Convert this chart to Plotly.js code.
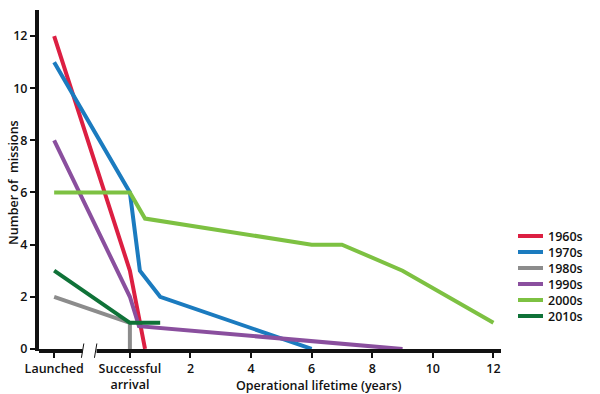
<!DOCTYPE html>
<html><head><meta charset="utf-8">
<script src="https://cdn.plot.ly/plotly-3.0.1.min.js"></script>
<style>body{margin:0;background:#fff}#c{width:600px;height:394px}</style>
</head><body><div id="c"></div>
<script>
// x positions: Launched = -2.5, Successful arrival = 0, then operational years
const seriesNames = ['1960s','1970s','1980s','1990s','2000s','2010s'];
const colors = ['#dc1f42','#1b7bbf','#8c8c8c','#8a4f9e','#7dc142','#0f7238'];
const x1960 = [-2.5, 0, 0.5];       const y1960 = [12, 3, 0];
const x1970 = [-2.5, 0, 0.33, 1, 6]; const y1970 = [11, 6, 3, 2, 0];
const x1980 = [-2.5, 0, 0];         const y1980 = [2, 1, 0];
const x1990 = [-2.5, 0, 0.3, 9];    const y1990 = [8, 2, 0.87, 0];
const x2000 = [-2.5, 0, 0.5, 6, 7, 9, 12]; const y2000 = [6, 6, 5, 4, 4, 3, 1];
const x2010 = [-2.5, 0, 1];         const y2010 = [3, 1, 1];
const tickVals = [-2.5, 0, 2, 4, 6, 8, 10, 12];
const tickText = ['Launched', 'Successful<br>arrival', '2', '4', '6', '8', '10', '12'];
const yTicks = [0, 2, 4, 6, 8, 10, 12];

const xs = [x1960, x1970, x1980, x1990, x2000, x2010];
const ys = [y1960, y1970, y1980, y1990, y2000, y2010];
const traces = seriesNames.map((n, i) => ({
  x: xs[i], y: ys[i], name: n, type: 'scatter', mode: 'lines',
  line: {color: colors[i], width: 4}
}));

const W = 600, H = 394, ML = 39, MR = 99, MT = 10, MB = 43;
const PW = W - ML - MR, PH = H - MT - MB;
const px = v => (v - ML) / PW;
const py = v => (H - MB - v) / PH;

const F = {family: 'Open Sans, sans-serif', size: 12.5, color: '#111', weight: 600};

const shapes = [
  {type: 'line', xref: 'x', yref: 'paper', x0: -3.05, x1: -1.56, y0: 0, y1: 0, line: {color: '#111', width: 4}, layer: 'above'},
  {type: 'line', xref: 'x', yref: 'paper', x0: -1.1, x1: 12.25, y0: 0, y1: 0, line: {color: '#111', width: 4}, layer: 'above'},
  {type: 'line', xref: 'x', yref: 'paper', x0: -1.6, x1: -1.52, y0: -0.02, y1: 0.022, line: {color: '#111', width: 1}, layer: 'above'},
  {type: 'line', xref: 'x', yref: 'paper', x0: -1.17, x1: -1.09, y0: -0.02, y1: 0.022, line: {color: '#111', width: 1}, layer: 'above'}
];
const annotations = [
  {text: 'Operational lifetime (years)', xref: 'paper', yref: 'paper',
    x: px(319), y: py(386), xanchor: 'center', yanchor: 'middle', showarrow: false, font: F},
  {text: 'Number of  missions', xref: 'paper', yref: 'paper', textangle: -90,
    x: px(13), y: py(183), xanchor: 'center', yanchor: 'middle', showarrow: false, font: F}
];
// legend (drawn manually to match tight item spacing)
seriesNames.forEach((n, i) => {
  const yy = py(236 + 16 * i);
  shapes.push({type: 'line', xref: 'paper', yref: 'paper', x0: px(518), x1: px(543), y0: yy, y1: yy,
    line: {color: colors[i], width: 4}});
  annotations.push({text: n, xref: 'paper', yref: 'paper', x: px(546), y: yy, xanchor: 'left', yanchor: 'middle',
    showarrow: false, font: F});
});

const layout = {
  width: W, height: H,
  margin: {l: ML, r: MR, t: MT, b: MB},
  paper_bgcolor: '#fff', plot_bgcolor: '#fff',
  font: F,
  showlegend: false,
  xaxis: {range: [-3, 12.25], showgrid: false, zeroline: false, showline: false,
    tickmode: 'array', tickvals: tickVals, ticktext: tickText,
    ticks: 'outside', ticklen: 6, tickwidth: 2, tickcolor: '#111', tickfont: F},
  yaxis: {range: [-0.08, 13], showgrid: false, zeroline: false, showline: true, linewidth: 4, linecolor: '#111',
    tickmode: 'array', tickvals: yTicks, ticks: 'outside', ticklen: 5, tickwidth: 2, tickcolor: '#111', tickfont: F},
  annotations: annotations,
  shapes: shapes
};
Plotly.newPlot('c', traces, layout, {staticPlot: true});
</script></body></html>
